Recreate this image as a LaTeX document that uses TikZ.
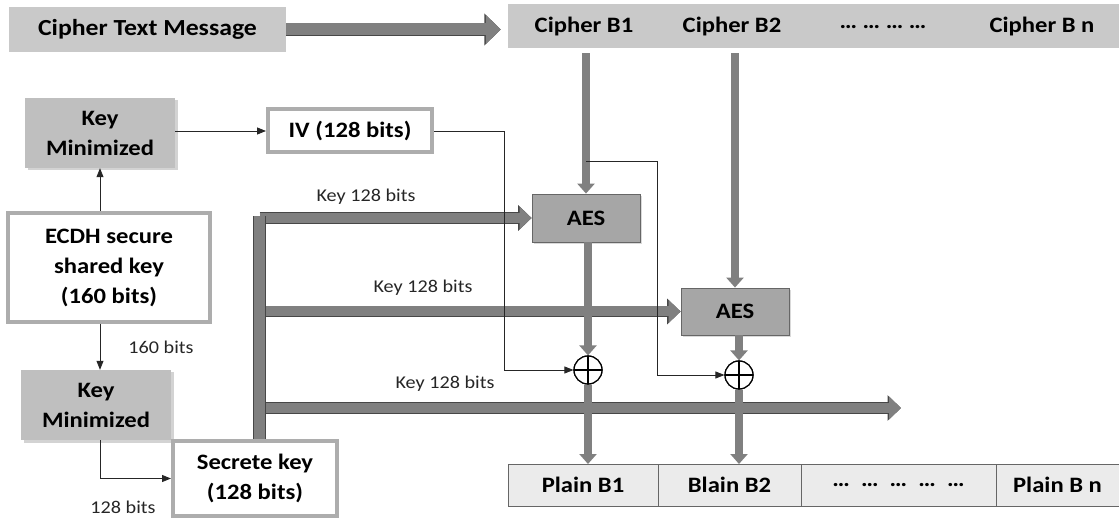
\documentclass[tikz,border=0pt]{standalone}
\usepackage{fontspec}
\setmainfont{Carlito}[FakeStretch=1.12]
\usetikzlibrary{arrows.meta,positioning,shadows,calc}
\colorlet{boxfill}{black!21}
\colorlet{arrowgray}{black!50}
\colorlet{arrowedge}{black!72}

\begin{document}
\begin{tikzpicture}[x=1pt,y=-1pt,
  boxfont/.style={font=\bfseries\fontsize{22}{30}\selectfont},
  graybox/.style={boxfont,fill=boxfill,inner sep=0pt,align=center},
  shadebox/.style={graybox,fill=black!25,drop shadow={opacity=0.35,shadow xshift=2.5pt,shadow yshift=-2.5pt}},
  glowbox/.style={boxfont,fill=white,draw=black!32,line width=4pt,inner sep=0pt,align=center},
  aesbox/.style={boxfont,fill=black!35,draw=black!60,line width=0.8pt,inner sep=0pt,drop shadow={opacity=0.3,shadow xshift=2pt,shadow yshift=-2pt}},
  plaincell/.style={boxfont,fill=black!8,draw=black!60,line width=1pt,inner sep=0pt,outer sep=0pt,minimum height=42pt},
  keylabel/.style={font=\fontsize{18}{20}\selectfont,text=black!85},
  msgarrow/.style={arrowgray,line width=12pt,-{Triangle[width=28pt,length=15pt]},
    preaction={draw=arrowedge,line width=13.5pt,-{Triangle[width=31pt,length=16.5pt]}}},
  keyarrow/.style={arrowgray,line width=10pt,-{Triangle[width=22pt,length=12pt]},
    preaction={draw=arrowedge,line width=11.5pt,-{Triangle[width=25pt,length=13.5pt]}}},
  colarrow/.style={arrowgray,line width=8pt,-{Triangle[width=17pt,length=10pt]}},
  keybar/.style={arrowgray,line width=11.5pt,preaction={draw=arrowedge,line width=13pt}},
  thinarrow/.style={black!85,line width=0.8pt,-{Triangle[width=7pt,length=9pt]}},
  xorsym/.style={circle,draw,line width=1.2pt,fill=white,minimum size=28pt,inner sep=0pt,
    path picture={\draw[line width=1.2pt] (path picture bounding box.north) -- (path picture bounding box.south)
      (path picture bounding box.west) -- (path picture bounding box.east);}}]
\useasboundingbox (0,0) rectangle (1119,518);

% cipher text and its blocks
\node[graybox,minimum width=277pt,minimum height=45pt,font=\bfseries\fontsize{23}{25}\selectfont] (msg) at (147.5,29.5) {Cipher Text Message};
\node[graybox,minimum width=611pt,minimum height=44pt] (crow) at (813.5,26) {};
\node[boxfont] (cb1) at (584,27) {Cipher B1};
\node[boxfont] (cb2) at (732,27) {Cipher B2};
\node[boxfont] (cdots) at (883,27) {\dots\ \dots\ \dots\ \dots};
\node[boxfont] (cbn) at (1042,27) {Cipher B n};
\draw[msgarrow,shorten >=7pt] (msg.east) -- (msg.east -| crow.west);

% key side
\node[shadebox,minimum width=150pt,minimum height=70pt] (keymin1) at (100,133) {Key\\Minimized};
\node[glowbox,minimum width=164pt,minimum height=43pt] (iv) at (350,131) {IV (128 bits)};
\node[glowbox,minimum width=202pt,minimum height=109pt] (ecdh) at (109,267.5) {ECDH secure\\shared key\\(160 bits)};
\node[shadebox,minimum width=150pt,minimum height=70pt] (keymin2) at (96,405) {Key\\Minimized};
\node[glowbox,minimum width=164pt,minimum height=75pt] (secrete) at (255,478.5) {Secrete key\\(128 bits)};
\node[keylabel] (l160) at (161,347) {160 bits};
\node[keylabel] (l128) at (123,507) {128 bits};

\draw[thinarrow] (keymin1.east |- iv.west) -- (iv.west);
\draw[thinarrow] (keymin1.south |- ecdh.north) -- (keymin1.south);
\draw[thinarrow] (keymin1.south |- ecdh.south) -- (keymin1.south |- keymin2.north);
\draw[thinarrow] (keymin1.south |- keymin2.south) |- (secrete.west);

% AES blocks and xor
\node[aesbox,minimum width=108pt,minimum height=48pt] (aes1) at (586,218) {AES};
\node[aesbox,minimum width=108pt,minimum height=47pt] (aes2) at (735,311.5) {AES};
\node[xorsym] (xor1) at (588,370) {};
\node[xorsym] (xor2) at (739,375) {};

% plain blocks
\node[plaincell,minimum width=150pt] (p1) at (583,485) {Plain B1};
\node[plaincell,minimum width=143pt,right=0pt of p1] (p2) {Blain B2};
\node[plaincell,minimum width=195pt,right=0pt of p2] (p3) {\dots\ \ \dots\ \ \dots\ \ \dots\ \ \dots};
\node[plaincell,minimum width=123pt,right=0pt of p3] (p4) {Plain B n};

% key distribution
\coordinate (bartop) at (259.5,216);
\coordinate (keyend) at (901,408);
\node[keylabel] (lk1) at (366,197) {Key 128 bits};
\node[keylabel] (lk2) at (423,288) {Key 128 bits};
\node[keylabel] (lk3) at (445,384) {Key 128 bits};
\draw[keyarrow] (bartop |- aes1.west) -- (aes1.west);
\draw[keyarrow] (bartop |- aes2.west) -- (aes2.west);
\draw[keyarrow] (bartop |- keyend) -- (keyend);
\draw[keybar] (bartop) -- (bartop |- secrete.north);

% block flow
\draw[colarrow,shorten <=5pt] (aes1.north |- crow.south) -- (aes1.north);
\draw[colarrow,shorten <=5pt] (aes2.north |- crow.south) -- (aes2.north);
\draw[colarrow] (aes1.south -| xor1.north) -- (xor1.north);
\draw[colarrow] (aes2.south -| xor2.north) -- (xor2.north);
\draw[colarrow] (xor1.south) -- (xor1.south |- p1.north);
\draw[colarrow] (xor2.south) -- (xor2.south |- p2.north);
\node[xorsym] at (xor1) {};
\node[xorsym] at (xor2) {};

% chaining lines
\coordinate (branch) at (aes1.north |- 0,161);
\draw[thinarrow] (iv.east) -- ++(70,0) |- (xor1.west);
\draw[thinarrow] (branch) -- ++(71,0) |- (xor2.west);
\end{tikzpicture}
\end{document}
